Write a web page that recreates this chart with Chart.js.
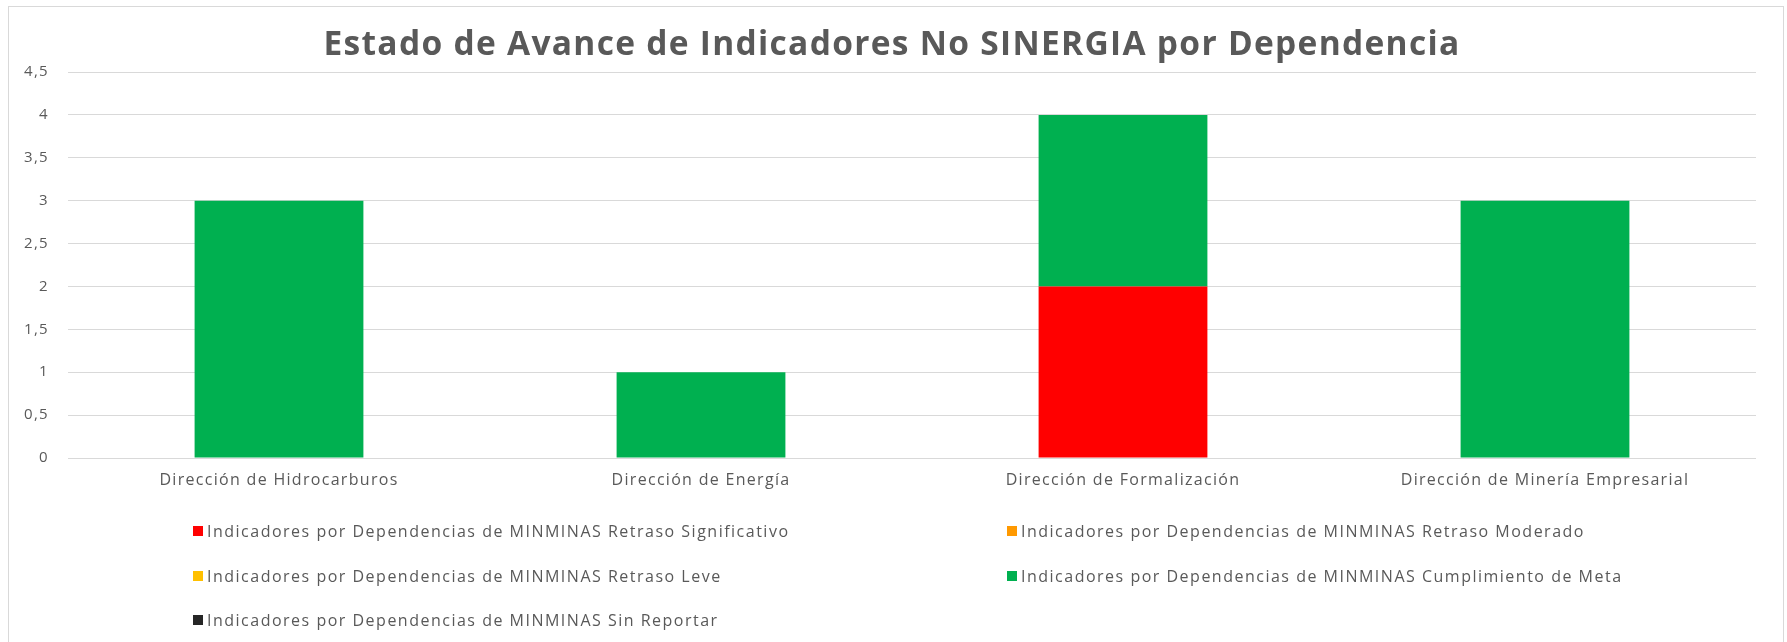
<!DOCTYPE html>
<html>
<head>
<meta charset="utf-8">
<title>Estado de Avance de Indicadores No SINERGIA por Dependencia</title>
<script src="https://cdn.jsdelivr.net/npm/chart.js@4.4.1/dist/chart.umd.min.js"></script>
<style>
  body { margin: 0; background: #fff; overflow: hidden; width: 1787px; height: 642px; position: relative; font-family: "Open Sans", sans-serif; }
  #frame { position: absolute; left: 8px; top: 6px; width: 1776px; height: 700px; border: 1px solid #d9d9d9; box-sizing: border-box; }
  #wrap { position: absolute; left: 0; top: 0; width: 1787px; height: 642px; }
  #legend { position: absolute; left: 193px; top: 509px; display: grid; grid-template-columns: 814px 700px; grid-auto-rows: 44.5px; }
  .item { display: flex; align-items: center; color: #595959; font-size: 16px; letter-spacing: 1.5px; white-space: nowrap; }
  .box { width: 10px; height: 10px; margin-right: 4px; flex: none; }
</style>
</head>
<body>
<div id="frame"></div>
<div id="wrap"><canvas id="chart"></canvas></div>
<div id="legend"></div>
<script>
"use strict";

// Datos
const categories = [
  "Dirección de Hidrocarburos",
  "Dirección de Energía",
  "Dirección de Formalización",
  "Dirección de Minería Empresarial"
];
const retrasoSignificativo = [0, 0, 2, 0];
const retrasoModerado = [0, 0, 0, 0];
const retrasoLeve = [0, 0, 0, 0];
const cumplimientoMeta = [3, 1, 2, 3];
const sinReportar = [0, 0, 0, 0];

const seriesNames = [
  "Indicadores por Dependencias de MINMINAS Retraso Significativo",
  "Indicadores por Dependencias de MINMINAS Retraso Moderado",
  "Indicadores por Dependencias de MINMINAS Retraso Leve",
  "Indicadores por Dependencias de MINMINAS Cumplimiento de Meta",
  "Indicadores por Dependencias de MINMINAS Sin Reportar"
];
const seriesColors = ["#ff0000", "#ff9900", "#ffc000", "#00b050", "#262626"];
const yTickLabels = ["0", "0,5", "1", "1,5", "2", "2,5", "3", "3,5", "4", "4,5"];

const textColor = "#595959";
const gridColor = "#d9d9d9";

// Espaciado de letras como en la captura original y título centrado en el marco
const spacingPlugin = {
  id: "spacing",
  afterLayout(chart) {
    if (chart.titleBlock) chart.titleBlock.right += 28;
  },
  beforeDraw(chart) {
    chart.ctx.letterSpacing = "1.3px";
  }
};

const allSeries = [retrasoSignificativo, retrasoModerado, retrasoLeve, cumplimientoMeta, sinReportar];

const ctx = document.getElementById("chart").getContext("2d");
const chart = new Chart(ctx, {
  type: "bar",
  data: {
    labels: categories,
    datasets: allSeries.map((values, i) => ({
      label: seriesNames[i],
      data: values,
      backgroundColor: seriesColors[i],
      borderWidth: 0,
      barPercentage: 0.4,
      categoryPercentage: 1.0
    }))
  },
  options: {
    responsive: true,
    maintainAspectRatio: false,
    animation: false,
    layout: { padding: { left: 0, right: 31, top: 0, bottom: 0 } },
    plugins: {
      legend: { display: false },
      tooltip: { enabled: false },
      title: {
        display: true,
        text: "Estado de Avance de Indicadores No SINERGIA por Dependencia",
        color: textColor,
        font: { family: "'Open Sans', sans-serif", size: 33.5, weight: "bold" },
        padding: { top: 25, bottom: 6.8 }
      }
    },
    scales: {
      x: {
        stacked: true,
        grid: { display: false, drawTicks: false },
        border: { display: false },
        ticks: {
          color: textColor,
          padding: 13,
          maxRotation: 0,
          font: { family: "'Open Sans', sans-serif", size: 16 }
        },
        afterFit(scale) { scale.height = 184; }
      },
      y: {
        stacked: true,
        min: 0,
        max: 4.5,
        grid: { color: gridColor, lineWidth: 1, drawTicks: false },
        border: { display: false },
        ticks: {
          stepSize: 0.5,
          color: textColor,
          padding: 19,
          font: { family: "'Open Sans', sans-serif", size: 15 },
          callback: (value, index) => yTickLabels[index]
        },
        afterFit(scale) { scale.width = 68; }
      }
    }
  },
  plugins: [spacingPlugin]
});

// Leyenda en dos columnas, construida a partir de los elementos de la leyenda del gráfico
const legendEl = document.getElementById("legend");
chart.options.plugins.legend.labels.generateLabels(chart).forEach(item => {
  const div = document.createElement("div");
  div.className = "item";
  const box = document.createElement("span");
  box.className = "box";
  box.style.background = item.fillStyle;
  div.appendChild(box);
  div.appendChild(document.createTextNode(item.text));
  legendEl.appendChild(div);
});
</script>
</body>
</html>
